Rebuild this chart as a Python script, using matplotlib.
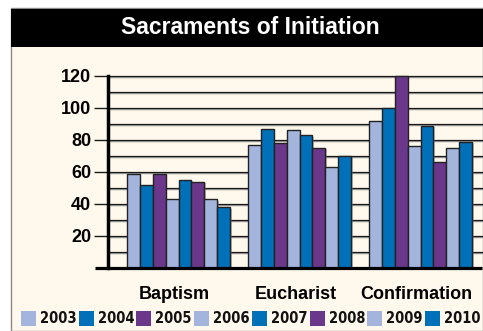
import matplotlib
matplotlib.use("Agg")
import matplotlib.pyplot as plt
from matplotlib.patches import Rectangle
from matplotlib import font_manager
import numpy as np

categories = ["Baptism", "Eucharist", "Confirmation"]
years = ["2003", "2004", "2005", "2006", "2007", "2008", "2009", "2010"]
baptism = [59, 52, 59, 43, 55, 54, 43, 38]
eucharist = [77, 87, 78, 86, 83, 75, 63, 70]
confirmation = [92, 100, 120, 76, 89, 66, 75, 79]
y_ticks = [20, 40, 60, 80, 100, 120]
title = "Sacraments of Initiation"

light = "#A3B5DD"
blue = "#0070B8"
purple = "#6B378A"
colors = [light, blue, purple, light, blue, purple, light, blue]
cream = "#FFF8EC"

W, H = 483, 331
fig = plt.figure(figsize=(W / 100, H / 100), dpi=100)
fig.patch.set_facecolor("white")


def fx(px):
    return px / W


def fy(py):
    return 1 - py / H


bold = "Liberation Sans"

# pick a condensed face for the legend labels when one is available
fonts = font_manager.fontManager.ttflist
legend_font = dict(family="Liberation Sans", fontsize=11.5, fontweight="bold")
if any(f.name == "Liberation Sans Narrow" for f in fonts):
    legend_font = dict(family="Liberation Sans Narrow", fontsize=14,
                       fontweight="normal")
elif any(f.name == "DejaVu Sans" and f.stretch == "condensed" for f in fonts):
    legend_font = dict(family="DejaVu Sans", fontsize=10.5,
                       fontweight="bold", fontstretch="condensed")

# panel frame, cream body and black title bar
fig.patches.append(Rectangle((fx(11), fy(331)), fx(483 - 11), (331 - 8) / H,
                             transform=fig.transFigure, facecolor=cream,
                             edgecolor="#8a8a8a", linewidth=1.0, zorder=-3))
fig.patches.append(Rectangle((fx(11), fy(47)), fx(483 - 11), (47 - 9) / H,
                             transform=fig.transFigure, facecolor="black",
                             edgecolor="none", zorder=-2))
fig.text(fx(250), fy(28), title, color="white", fontsize=16.5,
         fontweight="bold", family=bold, ha="center", va="center")

# plotting area
x_left, x_right, y_top, y_bottom = 108, 482, 76, 268
ax = fig.add_axes([fx(x_left), fy(y_bottom), fx(x_right - x_left),
                   (y_bottom - y_top) / H])
ax.set_facecolor("none")
group_px = 121.0
x0 = (x_left - 178.5) / group_px
ax.set_xlim(x0, x0 + (x_right - x_left) / group_px)
ax.set_ylim(0, 120)

# grid lines every 10 with a soft shadow
for v in range(10, 121, 10):
    ax.axhline(v - 0.9, color="#9a9a9a", linewidth=1.0, zorder=1, clip_on=False)
    ax.axhline(v, color="#1a1a1a", linewidth=0.9, zorder=2, clip_on=False)

width = 12.9 / group_px
values = np.array([baptism, eucharist, confirmation]).T
xs = np.arange(len(categories))
for j, yr in enumerate(years):
    pos = xs + (j - 3.5) * width
    ax.bar(pos + 1.5 / group_px, values[j], width=width, bottom=-0.9,
           color="#777777", alpha=0.45, linewidth=0, zorder=3, clip_on=False)
    ax.bar(pos, values[j], width=width, color=colors[j], edgecolor="#222222",
           linewidth=1.0, zorder=4, clip_on=False)

for s in ["top", "right", "bottom"]:
    ax.spines[s].set_visible(False)
ax.spines["left"].set_linewidth(2.5)
ax.spines["left"].set_color("black")
ax.spines["left"].set_zorder(6)

# thick baseline extending left of the axis
ax.plot([x0 - 13 / group_px, x0 + (x_right - x_left) / group_px], [0, 0],
        color="black", linewidth=2.3, clip_on=False, zorder=7,
        solid_capstyle="butt")

ax.set_yticks(y_ticks)
ax.set_yticklabels([str(t) for t in y_ticks], fontsize=13, fontweight="bold",
                   family=bold)
ax.tick_params(axis="y", length=10, width=1.0, pad=2, color="#1a1a1a")
ax.set_xticks(xs - 4 / group_px)
ax.set_xticklabels(categories, fontsize=13, fontweight="bold", family=bold)
ax.tick_params(axis="x", length=0, pad=13)

# legend row
for i, yr in enumerate(years):
    lx = 21 + 57.7 * i
    fig.patches.append(Rectangle((fx(lx), fy(326)), fx(15), 15 / H,
                                 transform=fig.transFigure,
                                 facecolor=colors[i], edgecolor="none", zorder=2))
    fig.text(fx(lx + 19), fy(318.5), yr, ha="left", va="center",
             color="#111111", **legend_font)

fig.savefig("out.png", dpi=100, facecolor=fig.get_facecolor())
